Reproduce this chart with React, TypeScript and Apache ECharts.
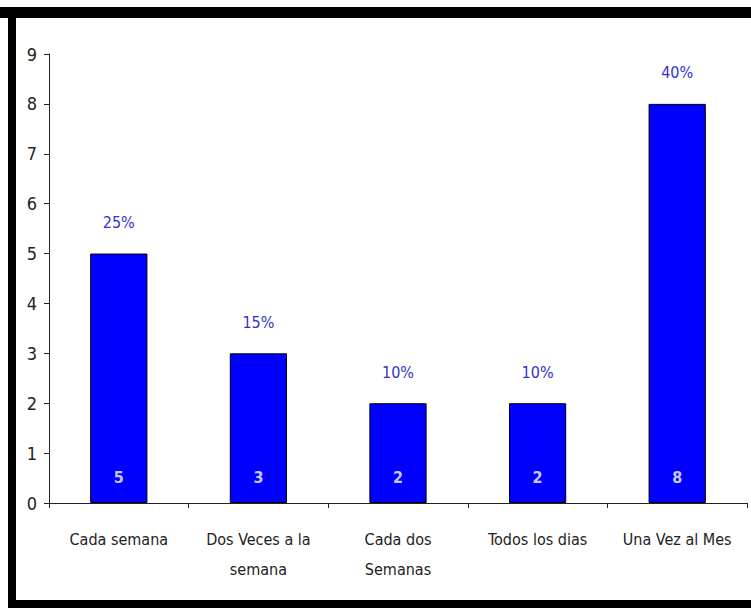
import React, { useEffect, useRef } from "react";
import * as echarts from "echarts";

const categories = ["Cada semana", "Dos Veces a la\nsemana", "Cada dos\nSemanas", "Todos los dias", "Una Vez al Mes"];
const counts = [5, 3, 2, 2, 8];
const percents = ["25%", "15%", "10%", "10%", "40%"];
const yTicks = { min: 0, max: 9, interval: 1 };

const FONT = "'Liberation Sans Narrow', 'DejaVu Sans Condensed', 'Arial Narrow', sans-serif";

export default function App() {
  const ref = useRef<HTMLDivElement>(null);
  useEffect(() => {
    document.body.style.margin = "0";
    const chart = echarts.init(ref.current!, null, { renderer: "svg" });
    chart.setOption({
      animation: false,
      backgroundColor: "#ffffff",
      grid: { left: 49, right: 4, top: 54, bottom: 105 },
      xAxis: {
        type: "category",
        data: categories,
        axisLine: { lineStyle: { color: "#222", width: 1 } },
        axisTick: { show: true, length: 5, lineStyle: { color: "#222" } },
        axisLabel: {
          interval: 0,
          margin: 21,
          color: "#222",
          fontFamily: FONT,
          fontSize: 16,
          lineHeight: 30,
          verticalAlign: "top",
        },
      },
      yAxis: {
        type: "value",
        min: yTicks.min,
        max: yTicks.max,
        interval: yTicks.interval,
        splitLine: { show: false },
        axisLine: { show: true, lineStyle: { color: "#222", width: 1 } },
        axisTick: { show: true, length: 5, lineStyle: { color: "#222" } },
        axisLabel: { margin: 12, color: "#222", fontFamily: FONT, fontSize: 18 },
      },
      series: [
        {
          type: "bar",
          data: counts,
          barWidth: "41%",
          itemStyle: { color: "#0000ff", borderColor: "#000", borderWidth: 1 },
          label: {
            show: true,
            position: "insideBottom",
            distance: 18,
            color: "#c8c8ff",
            fontFamily: FONT,
            fontWeight: "bold",
            fontSize: 16,
          },
        },
        {
          type: "bar",
          data: counts,
          barWidth: "41%",
          barGap: "-100%",
          silent: true,
          itemStyle: { color: "rgba(0,0,0,0)" },
          label: {
            show: true,
            position: "top",
            distance: 23,
            color: "#3333cc",
            fontFamily: FONT,
            fontSize: 16,
            formatter: (p: any) => percents[p.dataIndex],
          },
        },
      ],
      graphic: [
        { type: "rect", shape: { x: 0, y: 7, width: 751, height: 11 }, style: { fill: "#000" } },
        { type: "rect", shape: { x: 8, y: 7, width: 8, height: 601 }, style: { fill: "#000" } },
        { type: "rect", shape: { x: 8, y: 600, width: 743, height: 8 }, style: { fill: "#000" } },
      ],
    });
    return () => chart.dispose();
  }, []);
  return <div ref={ref} style={{ width: 751, height: 608 }} />;
}
